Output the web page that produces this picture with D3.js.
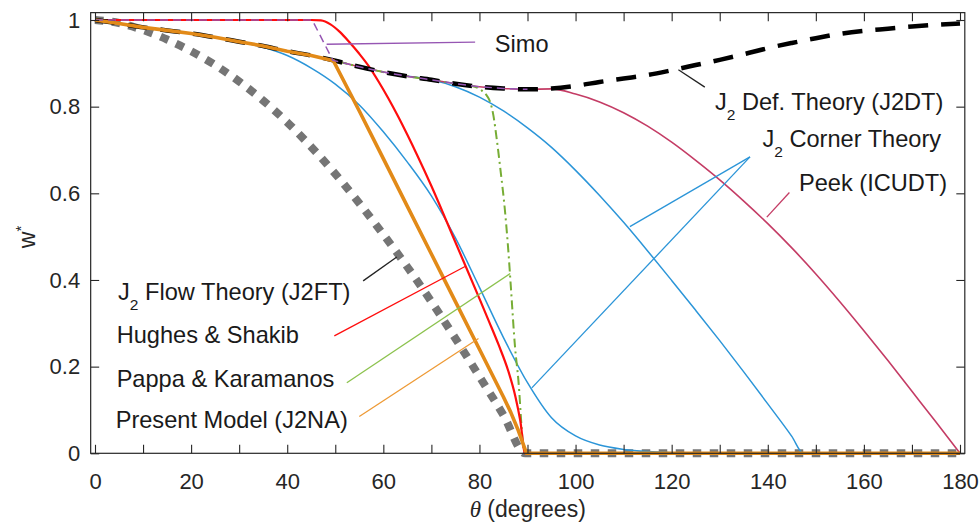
<!DOCTYPE html>
<html>
<head>
<meta charset="utf-8">
<script src="https://cdn.jsdelivr.net/npm/d3@7"></script>
<style>
  body { margin: 0; background: #fff; }
  svg { display: block; }
  text { font-family: "Liberation Sans", Arial, Helvetica, sans-serif; }
</style>
</head>
<body>
<svg id="chart" width="980" height="530"></svg>
<script>
// ---- axis ticks ----
const xTicks = [0, 10, 20, 30, 40, 50, 60, 70, 80, 90, 100, 110, 120, 130, 140, 150, 160, 170, 180];
const xTickLabels = [0, 20, 40, 60, 80, 100, 120, 140, 160, 180];
const yTicks = [0, 0.2, 0.4, 0.6, 0.8, 1];
const yTickLabels = ["0", "0.2", "0.4", "0.6", "0.8", "1"];

// ---- J2 deformation theory (J2DT) ----
const j2dtTheta = [0, 5, 10, 15, 20, 25, 30, 35, 40, 45, 50, 55, 60, 65, 70, 75, 80, 85, 90,
  95, 100, 105, 110, 115, 120, 125, 130, 135, 140, 145, 150, 155, 160, 165, 170, 175, 180];
const j2dtW = [1, 0.992, 0.983, 0.976, 0.969, 0.960, 0.950, 0.940, 0.928, 0.918, 0.906, 0.892, 0.880, 0.870, 0.862, 0.853, 0.846, 0.842, 0.840,
  0.842, 0.848, 0.857, 0.865, 0.873, 0.884, 0.896, 0.908, 0.921, 0.935, 0.947, 0.958, 0.968, 0.975, 0.980, 0.985, 0.989, 0.992];

// ---- Simo ----
const simoTheta = [0, 10, 20, 30, 40, 45.2, 49.5, 55, 60, 65, 70, 75, 80, 85, 90];
const simoW = [1, 1, 1, 1, 1, 1, 0.907, 0.892, 0.880, 0.870, 0.862, 0.853, 0.846, 0.842, 0.840];

// ---- Peek (ICUDT) ----
const peekTheta = [0, 5, 10, 15, 20, 25, 30, 35, 40, 45, 50, 55, 60, 65, 70, 75, 80, 85, 90,
  95, 100, 105, 110, 115, 120, 125, 130, 135, 140, 145, 150, 155, 160, 165, 170, 175, 180];
const peekW = [1, 0.992, 0.983, 0.976, 0.969, 0.960, 0.950, 0.940, 0.928, 0.918, 0.906, 0.892, 0.880, 0.870, 0.862, 0.853, 0.846, 0.842, 0.840,
  0.841, 0.829, 0.811, 0.786, 0.755, 0.718, 0.676, 0.631, 0.582, 0.530, 0.474, 0.414, 0.350, 0.283, 0.214, 0.143, 0.072, 0];

// ---- Hughes & Shakib ----
const hsTheta = [0, 10, 20, 30, 40, 45, 47, 49, 51, 53, 55, 57, 59, 61, 63, 65, 67, 70, 75, 80, 82, 84, 86, 87.5, 88.5, 89.5, 100, 120, 140, 160, 180];
const hsW = [1, 1, 1, 1, 1, 1, 0.999, 0.990, 0.972, 0.948, 0.922, 0.893, 0.858, 0.820, 0.779, 0.735, 0.689, 0.617, 0.487, 0.357, 0.304, 0.250, 0.190, 0.130, 0.075, 0, 0, 0, 0, 0, 0];

// ---- Pappa & Karamanos ----
const pkTheta = [0, 5, 10, 15, 20, 25, 30, 35, 40, 45, 50, 55, 60, 65, 70, 75, 78.7, 80.5, 81.5, 82.2, 82.9, 83.6, 84.3, 85.3, 86, 86.5, 87.4, 88.1, 89.1, 89.6, 100, 120, 140, 160, 180];
const pkW = [1, 0.992, 0.983, 0.976, 0.969, 0.960, 0.950, 0.940, 0.928, 0.918, 0.906, 0.892, 0.880, 0.870, 0.862, 0.853, 0.847, 0.837, 0.826, 0.812, 0.780, 0.725, 0.661, 0.561, 0.469, 0.390, 0.246, 0.169, 0.020, 0, 0, 0, 0, 0, 0];

// ---- Present model (J2NA) ----
const j2naTheta = [0, 5, 10, 15, 20, 25, 30, 35, 40, 45, 49.6, 55, 60, 65, 70, 75, 80, 85, 86.5, 88, 89.8, 100, 120, 140, 160, 180];
const j2naW = [1, 0.992, 0.983, 0.976, 0.969, 0.960, 0.950, 0.940, 0.928, 0.918, 0.906, 0.790, 0.680, 0.570, 0.460, 0.350, 0.240, 0.130, 0.095, 0.055, 0, 0, 0, 0, 0, 0];

// ---- J2 flow theory (J2FT) ----
const j2ftTheta = [0, 5, 10, 15, 20, 25, 30, 35, 40, 45, 50, 55, 60, 65, 70, 75, 80, 85, 89.5, 100, 120, 140, 160, 180];
const j2ftW = [1, 0.993, 0.977, 0.955, 0.928, 0.896, 0.858, 0.814, 0.764, 0.707, 0.645, 0.577, 0.505, 0.430, 0.350, 0.265, 0.177, 0.088, 0, 0, 0, 0, 0, 0];

// ---- J2 corner theory (two branches) ----
const cornerATheta = [0, 10, 20, 30, 35, 40, 45, 50, 55, 60, 65, 70, 75, 80, 85, 90, 95, 100, 105, 110, 115, 120, 125, 130, 180];
const cornerAW = [1, 0.983, 0.969, 0.950, 0.937, 0.918, 0.889, 0.852, 0.804, 0.742, 0.672, 0.594, 0.497, 0.383, 0.267, 0.163, 0.082, 0.040, 0.019, 0.009, 0.004, 0.0015, 0.0005, 0, 0];
const cornerBTheta = [65, 70, 75, 80, 85, 90, 95, 100, 105, 110, 115, 120, 125, 130, 135, 140, 145, 147.4, 160, 180];
const cornerBW = [0.870, 0.862, 0.846, 0.822, 0.790, 0.751, 0.706, 0.653, 0.595, 0.533, 0.467, 0.399, 0.330, 0.260, 0.188, 0.114, 0.039, 0, 0, 0];

// ---- scales ----
const x = d3.scaleLinear().domain([0, 180]).range([95, 960]);
const y = d3.scaleLinear().domain([0, 1]).range([453.3, 20]);
const xLo = -0.9, xHi = 181, yHi = 1.017;

const svg = d3.select("#chart");
svg.append("rect").attr("width", 980).attr("height", 530).attr("fill", "#fff");

const plot = svg.append("g");

function drawSeries(thetas, ws, opt) {
  const pts = thetas.map((t, i) => [t, ws[i]]);
  const line = d3.line()
    .x(d => x(d[0]))
    .y(d => y(d[1]))
    .curve(opt.curve || d3.curveMonotoneX);
  plot.append("path")
    .datum(pts)
    .attr("d", line)
    .attr("fill", "none")
    .attr("stroke", opt.color)
    .attr("stroke-width", opt.width)
    .attr("stroke-dasharray", opt.dash || null)
    .attr("stroke-linecap", "butt")
    .attr("stroke-linejoin", "round");
}

const C = {
  grey: "#757575",
  blue: "#2b95d8",
  peek: "#c43c65",
  red: "#ff0d0d",
  green: "#77ad35",
  orange: "#e28a18",
  purple: "#9656b3",
  black: "#000000"
};

// curves, bottom to top
drawSeries(j2ftTheta, j2ftW, { color: C.grey, width: 8, dash: "8.5 8.5" });
drawSeries(cornerATheta, cornerAW, { color: C.blue, width: 1.5 });
drawSeries(cornerBTheta, cornerBW, { color: C.blue, width: 1.5 });
drawSeries(peekTheta, peekW, { color: C.peek, width: 1.6 });
drawSeries(pkTheta, pkW, { color: C.green, width: 2, dash: "9 4 2 4" });
drawSeries(hsTheta, hsW, { color: C.red, width: 2.2 });
drawSeries(j2dtTheta, j2dtW, { color: C.black, width: 4.5, dash: "20 13" });
drawSeries(j2naTheta, j2naW, { color: C.orange, width: 3.6, curve: d3.curveLinear });
drawSeries(simoTheta, simoW, { color: C.purple, width: 1.5, dash: "8 5", curve: d3.curveLinear });

// ---- frame and ticks ----
const axisColor = "#262626";
const tick = 8.5;

const gBottom = svg.append("g").attr("transform", `translate(0,${y(0)})`)
  .call(d3.axisBottom(x).tickValues(xTicks).tickSize(-tick).tickPadding(20)
    .tickFormat(d => xTickLabels.includes(d) ? String(d) : ""));
const gTop = svg.append("g").attr("transform", `translate(0,${y(yHi)})`)
  .call(d3.axisTop(x).tickValues(xTicks).tickSize(-tick).tickFormat(() => ""));
const gLeft = svg.append("g").attr("transform", `translate(${x(xLo)},0)`)
  .call(d3.axisLeft(y).tickValues(yTicks).tickSize(-tick).tickPadding(10.5)
    .tickFormat((d, i) => yTickLabels[i]));
const gRight = svg.append("g").attr("transform", `translate(${x(xHi)},0)`)
  .call(d3.axisRight(y).tickValues(yTicks).tickSize(-tick).tickFormat(() => ""));

[gBottom, gTop, gLeft, gRight].forEach(g => {
  g.select(".domain").remove();
  g.selectAll(".tick line").attr("stroke", axisColor).attr("stroke-width", 1.1);
  g.selectAll(".tick text")
    .attr("fill", axisColor)
    .style("font-family", '"Liberation Sans", Arial, Helvetica, sans-serif')
    .style("font-size", "22px");
});

svg.append("rect")
  .attr("x", x(xLo)).attr("y", y(yHi))
  .attr("width", x(xHi) - x(xLo)).attr("height", y(0) - y(yHi))
  .attr("fill", "none").attr("stroke", axisColor).attr("stroke-width", 1.2);

// ---- annotations: leader lines and labels (data units) ----
const leaders = [
  { from: [48.2, 0.944], to: [79.1, 0.949], color: C.purple },
  { from: [121.4, 0.885], to: [126.9, 0.845], color: "#222" },
  { from: [111.3, 0.523], to: [136.3, 0.684], color: C.blue },
  { from: [90.9, 0.151], to: [136.3, 0.684], color: C.blue },
  { from: [139.8, 0.545], to: [144.5, 0.602], color: C.peek },
  { from: [55.8, 0.398], to: [62.8, 0.453], color: "#222" },
  { from: [49.8, 0.271], to: [77.0, 0.431], color: C.red },
  { from: [52.4, 0.163], to: [86.4, 0.415], color: "#8cc24e" },
  { from: [55.0, 0.085], to: [79.8, 0.265], color: "#ee9a35" }
];
leaders.forEach(l => {
  svg.append("line")
    .attr("x1", x(l.from[0])).attr("y1", y(l.from[1]))
    .attr("x2", x(l.to[0])).attr("y2", y(l.to[1]))
    .attr("stroke", l.color).attr("stroke-width", 1.3);
});

const labels = [
  { at: [83.2, 0.926], parts: ["Simo"] },
  { at: [129.0, 0.792], parts: ["J", "2", " Def. Theory (J2DT)"] },
  { at: [138.9, 0.708], parts: ["J", "2", " Corner Theory"] },
  { at: [146.5, 0.606], parts: ["Peek (ICUDT)"] },
  { at: [4.8, 0.354], parts: ["J", "2", " Flow Theory (J2FT)"] },
  { at: [4.5, 0.254], parts: ["Hughes & Shakib"] },
  { at: [4.5, 0.154], parts: ["Pappa & Karamanos"] },
  { at: [4.3, 0.058], parts: ["Present Model (J2NA)"] }
];
labels.forEach(lb => {
  const t = svg.append("text")
    .attr("x", x(lb.at[0])).attr("y", y(lb.at[1]))
    .attr("fill", "#1a1a1a")
    .style("font-size", "23.6px");
  if (lb.parts.length === 1) {
    t.text(lb.parts[0]);
  } else {
    t.append("tspan").text(lb.parts[0]);
    t.append("tspan").attr("dy", 10).style("font-size", "15.5px").text(lb.parts[1]);
    t.append("tspan").attr("dy", -10).text(lb.parts[2]);
  }
});

// ---- axis titles ----
const xTitle = svg.append("text")
  .attr("x", (x(xLo) + x(xHi)) / 2).attr("y", 517)
  .attr("text-anchor", "middle").attr("fill", axisColor)
  .style("font-size", "23px");
xTitle.append("tspan")
  .style("font-family", '"Liberation Serif", "Times New Roman", serif')
  .style("font-style", "italic").text("θ");
xTitle.append("tspan").text(" (degrees)");

const yTitle = svg.append("text")
  .attr("transform", `translate(35,237) rotate(-90)`)
  .attr("text-anchor", "middle").attr("fill", axisColor)
  .style("font-size", "23px");
yTitle.append("tspan").text("w");
yTitle.append("tspan").attr("dy", -9).style("font-size", "15px").text("*");
</script>
</body>
</html>
